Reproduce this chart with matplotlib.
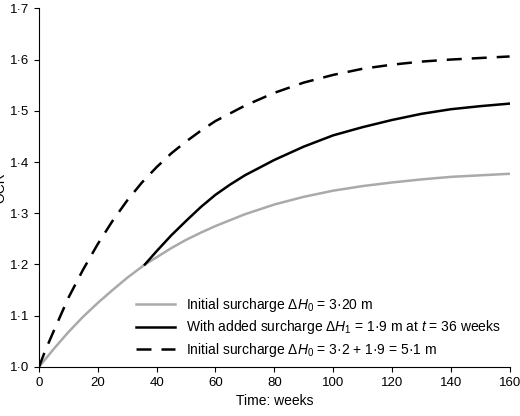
import matplotlib
matplotlib.use("Agg")
import matplotlib.pyplot as plt
from matplotlib.ticker import FuncFormatter

plt.rcParams['font.family'] = ['Liberation Sans', 'DejaVu Sans']
plt.rcParams['mathtext.fontset'] = 'custom'
plt.rcParams['mathtext.it'] = 'Liberation Sans:italic'
plt.rcParams['mathtext.rm'] = 'Liberation Sans'

gray_x = [0, 5, 10, 15, 20, 25, 30, 36, 40, 45, 50, 55, 60, 70, 80, 90, 100, 110, 120, 130, 140, 150, 160]
gray_y = [1.0, 1.035, 1.068, 1.098, 1.125, 1.15, 1.174, 1.2, 1.214, 1.232, 1.248, 1.262, 1.275, 1.298, 1.317, 1.332, 1.344, 1.353, 1.36, 1.366, 1.371, 1.374, 1.377]
black_x = [36, 40, 45, 50, 55, 60, 65, 70, 80, 90, 100, 110, 120, 130, 140, 150, 160]
black_y = [1.2, 1.226, 1.257, 1.285, 1.312, 1.336, 1.356, 1.374, 1.404, 1.43, 1.452, 1.468, 1.482, 1.494, 1.503, 1.509, 1.514]
dash_x = [0, 2, 5, 10, 15, 20, 25, 30, 35, 40, 45, 50, 55, 60, 70, 80, 90, 100, 110, 120, 130, 140, 150, 160]
dash_y = [1.0, 1.03, 1.07, 1.135, 1.19, 1.24, 1.285, 1.325, 1.36, 1.39, 1.417, 1.44, 1.461, 1.48, 1.51, 1.535, 1.555, 1.57, 1.582, 1.59, 1.596, 1.6, 1.603, 1.606]

fig = plt.figure(figsize=(5.2, 4.16), dpi=100)
ax = fig.add_axes([0.075, 0.118, 0.905, 0.862])
ax.plot(gray_x, gray_y, color="#aaaaaa", lw=1.8, label=r"Initial surcharge $\Delta H_0$ = 3·20 m")
ax.plot(black_x, black_y, color="black", lw=1.8, label=r"With added surcharge $\Delta H_1$ = 1·9 m at $t$ = 36 weeks")
ax.plot(dash_x, dash_y, color="black", lw=1.8, ls=(0, (6, 4)), label=r"Initial surcharge $\Delta H_0$ = 3·2 + 1·9 = 5·1 m")
ax.set_xlim(0, 160)
ax.set_ylim(1.0, 1.7)
ax.set_xticks(range(0, 161, 20))
ax.set_yticks([1.0 + 0.1 * i for i in range(8)])
ax.yaxis.set_major_formatter(FuncFormatter(lambda v, p: f"{v:.1f}".replace(".", "·")))
for s in ("top", "right"):
    ax.spines[s].set_visible(False)
ax.tick_params(labelsize=9.5)
ax.set_xlabel("Time: weeks", fontsize=10)
ax.set_ylabel("OCR", fontsize=10, labelpad=2)
ax.legend(loc="lower right", frameon=False, fontsize=10, handlelength=2.8, borderaxespad=0.2, labelspacing=0.3)
fig.savefig("out.png", dpi=100)
